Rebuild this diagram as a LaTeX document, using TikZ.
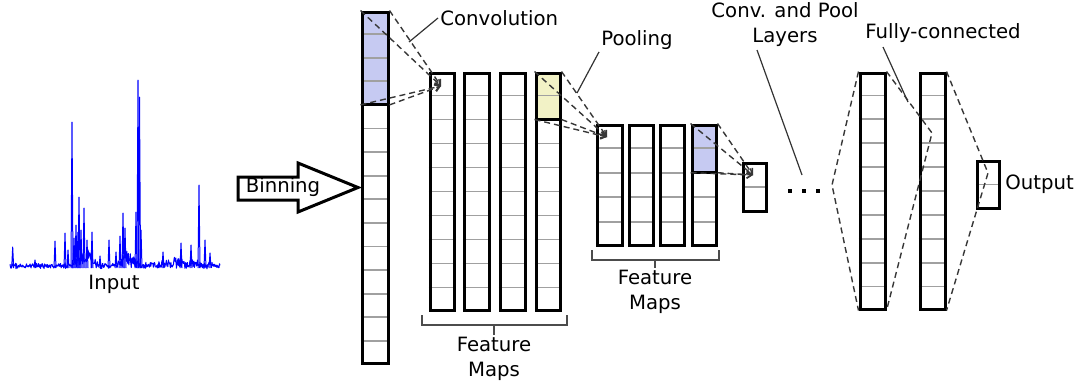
\documentclass[tikz,border=0pt]{standalone}
\usepackage{fontspec}
\setmainfont{DejaVu Sans}
\usetikzlibrary{fit,calc,arrows.meta}
\pgfdeclarelayer{background}
\pgfsetlayers{background,main}
\definecolor{hlblue}{RGB}{198,202,242}
\definecolor{hlyellow}{RGB}{242,242,198}
\definecolor{cellgray}{RGB}{160,160,160}
\definecolor{dashgray}{RGB}{55,55,55}
\tikzset{
 colbox/.style={draw=black, line width=1.5pt, inner sep=0pt, fit={#1}},
 celline/.style={draw=cellgray, line width=0.85pt},
 conn/.style={draw=dashgray, line width=0.7pt, dash pattern=on 3pt off 2pt},
 connarrow/.style={conn, -{Straight Barb[length=2.5pt,width=3.5pt]}},
 lbl/.style={font=\fontsize{9.85}{12.5}\selectfont, inner sep=1pt},
 leader/.style={draw=black!80, line width=0.6pt},
 brk/.style={draw=black!70, line width=0.75pt},
 spec/.style={draw=blue, line width=0.5pt, line join=round},
 dotsq/.style={fill=black, inner sep=0pt, minimum size=2.4pt},
}
\newcommand{\mkcells}[2]{%
 \pgfmathtruncatemacro{\nlast}{#2-1}%
 \begin{pgfonlayer}{background}
 \foreach \k in {1,...,\nlast}{\draw[celline] ($(#1.north west)!\k/#2!(#1.south west)$) -- ($(#1.north east)!\k/#2!(#1.south east)$);}
 \end{pgfonlayer}}
\newcommand{\mkhl}[4]{%
 \coordinate (#1-hsw) at ($(#1.north west)!#3/#2!(#1.south west)$);
 \coordinate (#1-hse) at ($(#1.north east)!#3/#2!(#1.south east)$);
 \begin{pgfonlayer}{background}
 \fill[#4] (#1.north west) rectangle (#1-hse);
 \end{pgfonlayer}
 \draw[line width=1.5pt] (#1-hsw) -- (#1-hse);}
\begin{document}
\begin{tikzpicture}[x=0.5pt,y=-0.5pt]
\useasboundingbox (0,0) rectangle (1080,387);

% ---------- input spectrum ----------
\pgfmathsetseed{12}
\draw[spec] plot[domain=10:220, samples=420] (\x, {269 - 2*rnd - (4 + 16*exp(-min(((\x-84)/11)^2,30)) + 14*exp(-min(((\x-128)/8)^2,30)) + 6*exp(-min(((\x-178)/25)^2,30)))*rnd});
\foreach \a/\b in {12.7/247, 35/260, 55/241, 65/233, 68/250, 72/122, 74/238, 76/225, 78/232, 79/197, 81/230, 84/208, 87/240, 92/232, 100/256, 109/240, 116/252, 120/236, 123/213, 125/228, 136/212, 138/80, 139.5/97, 141/230, 163/252, 181/243, 191/245, 199/185, 205/240, 210/253}
 \draw[spec] (\a-1,268) -- (\a,\b) -- (\a+1,268);
\node[lbl] (inl) at (114,284) {Input};

% ---------- binning arrow ----------
\draw[line width=1.5pt, line join=miter, fill=white] (238,177) -- (298,177) -- (298,163) -- (358,187.5) -- (298,212) -- (298,200) -- (238,200) -- cycle;
\node[lbl] (binl) at (283,187) {Binning};

% ---------- columns ----------
\node[colbox={(362,12) (388,363)}] (in) {};
\mkhl{in}{15}{4}{hlblue}\mkcells{in}{15}

\node[colbox={(430,73) (454,310)}] (f1a) {};\mkcells{f1a}{10}
\node[colbox={(464,73) (489,310)}] (f1b) {};\mkcells{f1b}{10}
\node[colbox={(500,73) (525,310)}] (f1c) {};\mkcells{f1c}{10}
\node[colbox={(536,73) (560,310)}] (f1d) {};
\mkhl{f1d}{10}{2}{hlyellow}\mkcells{f1d}{10}

\node[colbox={(597,125) (622,245)}] (f2a) {};\mkcells{f2a}{5}
\node[colbox={(629,125) (653,245)}] (f2b) {};\mkcells{f2b}{5}
\node[colbox={(660,125) (684,245)}] (f2c) {};\mkcells{f2c}{5}
\node[colbox={(692,125) (716,245)}] (f2d) {};
\mkhl{f2d}{5}{2}{hlblue}\mkcells{f2d}{5}

\node[colbox={(743,163) (766,211)}] (sm) {};\mkcells{sm}{2}

\node[colbox={(860,73) (885,309)}] (fc1) {};\mkcells{fc1}{10}
\node[colbox={(920,73) (945,309)}] (fc2) {};\mkcells{fc2}{10}
\node[colbox={(977,161) (999,208)}] (out) {};\mkcells{out}{2}

% ---------- dashed receptive-field lines ----------
\coordinate (convtip) at (441,86);
\foreach \c in {in.north west, in.north east, in-hsw, in-hse}
 \draw[connarrow] (\c) -- (convtip);
\coordinate (pooltip) at (607,137);
\foreach \c in {f1d.north west, f1d.north east, f1d-hsw, f1d-hse}
 \draw[connarrow] (\c) -- (pooltip);
\coordinate (smtip) at (753,175);
\foreach \c in {f2d.north west, f2d.north east, f2d-hsw, f2d-hse}
 \draw[connarrow] (\c) -- (smtip);

% ---------- dots ----------
\node[dotsq] (d1) at (790,191) {};
\node[dotsq] (d2) at (804,191) {};
\node[dotsq] (d3) at (818,191) {};

% ---------- fully connected dashed lines ----------
\coordinate (fcin) at (832,185);
\draw[conn] (fc1.north west) -- (fcin) -- (fc1.south west);
\coordinate (fcmid) at (932,133);
\draw[conn] (fc1.north east) -- (fcmid) -- (fc1.south east);
\coordinate (fcout) at (988,173);
\draw[conn] (fc2.north east) -- (fcout) -- (fc2.south east);

% ---------- brackets ----------
\draw[brk] (422,315) -- (422,325) -- (567,325) -- (567,315);
\coordinate (b1) at (494,335);
\draw[brk] (494,325) -- (b1);
\node[lbl, below, align=center] (fm1) at (b1) {Feature\\Maps};
\draw[brk] (592,250) -- (592,260) -- (719,260) -- (719,250);
\coordinate (b2) at (655,268);
\draw[brk] (655,260) -- (b2);
\node[lbl, below, align=center] (fm2) at (b2) {Feature\\Maps};

% ---------- labels and leaders ----------
\node[lbl, anchor=west] (conv) at (438,18) {Convolution};
\coordinate (convend) at (409,42);
\draw[leader] (conv.west) -- (convend);

\node[lbl, anchor=west] (pool) at (599,40) {Pooling};
\coordinate (poolend) at (577,93);
\draw[leader] (pool.south west) -- (poolend);

\node[lbl, align=center] (cpl) at (785,25) {Conv. and Pool\\Layers};
\coordinate (cplstart) at (757,50);
\coordinate (cplend) at (802,175);
\draw[leader] (cplstart) -- (cplend);

\node[lbl] (fcl) at (943,33) {Fully-connected};
\coordinate (fclstart) at (883,47);
\coordinate (fclend) at (908,102);
\draw[leader] (fclstart) -- (fclend);

\node[lbl, anchor=west] (outl) at (1003,184) {Output};
\end{tikzpicture}
\end{document}
